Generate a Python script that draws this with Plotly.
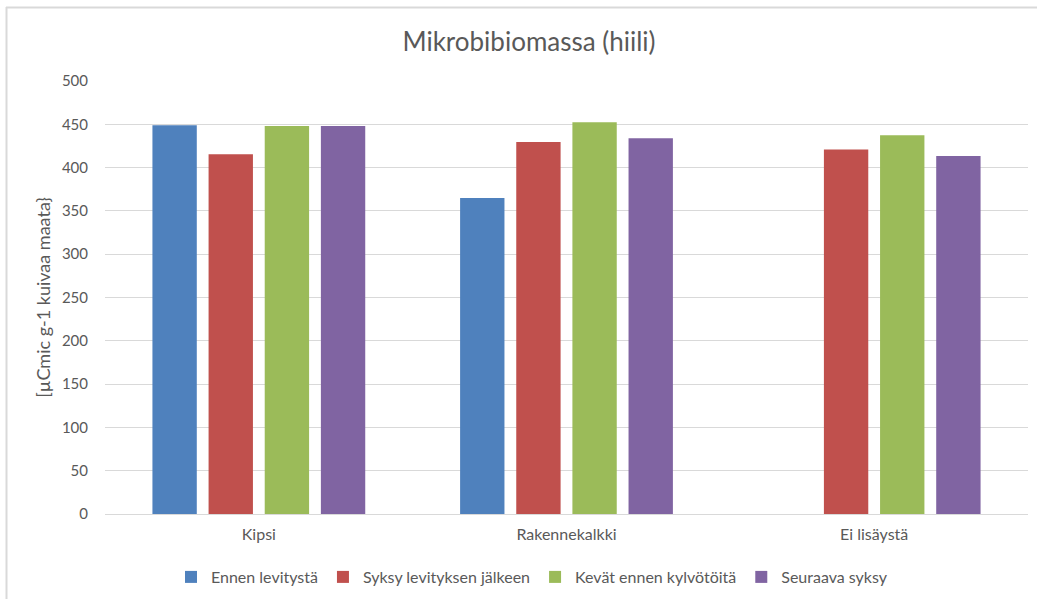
import plotly.graph_objects as go

categories = ["Kipsi", "Rakennekalkki", "Ei lisäystä"]
series_names = ["Ennen levitystä", "Syksy levityksen jälkeen", "Kevät ennen kylvötöitä", "Seuraava syksy"]
ennen = [449, 365, None]
syksy = [415.5, 429.5, 421]
kevat = [448, 452.5, 437.5]
seuraava = [448, 434, 413.5]
colors = ["#4F81BD", "#C0504D", "#9BBB59", "#8064A2"]
yticks = [0, 50, 100, 150, 200, 250, 300, 350, 400, 450, 500]

W, H = 1037, 599
L, R, T, B = 105, 9, 81, 85

fig = go.Figure()
for name, vals, c in zip(series_names, [ennen, syksy, kevat, seuraava], colors):
    fig.add_trace(go.Bar(name=name, x=categories, y=vals, marker=dict(color=c, line=dict(width=0))))

pw = W - L - R
ph = H - T - B
def px(x): return (x - L) / pw
def py(y): return (H - B - y) / ph

fig.update_layout(
    width=W, height=H,
    margin=dict(l=L, r=R, t=T, b=B, autoexpand=False),
    paper_bgcolor="white", plot_bgcolor="white",
    font=dict(family="Lato, Open Sans, sans-serif", size=15, color="#595959"),
    title=dict(text="Mikrobibiomassa (hiili)", x=529 / W, xanchor="center", y=1 - 42 / H, yanchor="middle",
               font=dict(size=26, color="#595959")),
    barmode="group", bargap=0.27, bargroupgap=0.21,
    xaxis=dict(showgrid=False, showline=True, linecolor="#D9D9D9", linewidth=1, ticks="", automargin=False,
               tickfont=dict(size=16, color="#595959"), ticklabelstandoff=6),
    yaxis=dict(range=[0, 500], tickvals=yticks, showgrid=True, gridcolor="#D9D9D9", gridwidth=1,
               zeroline=False, ticks="", showline=False, ticklabelstandoff=16, automargin=False,
               title=dict(text="[µCmic g-1 kuivaa maata}", font=dict(size=18, color="#595959"), standoff=6),
               tickfont=dict(size=15, color="#595959")),
    legend=dict(orientation="h", x=px(532), xanchor="center", y=py(577), yanchor="middle",
                font=dict(size=16, color="#595959"), itemwidth=30, traceorder="normal"),
    shapes=[
        dict(type="line", xref="paper", yref="paper", x0=px(6), x1=px(1037), y0=py(7.5), y1=py(7.5),
             line=dict(color="#D9D9D9", width=2)),
        dict(type="line", xref="paper", yref="paper", x0=px(6.5), x1=px(6.5), y0=py(7), y1=py(599),
             line=dict(color="#D9D9D9", width=2)),
    ],
)
fig.write_html("out.html")
